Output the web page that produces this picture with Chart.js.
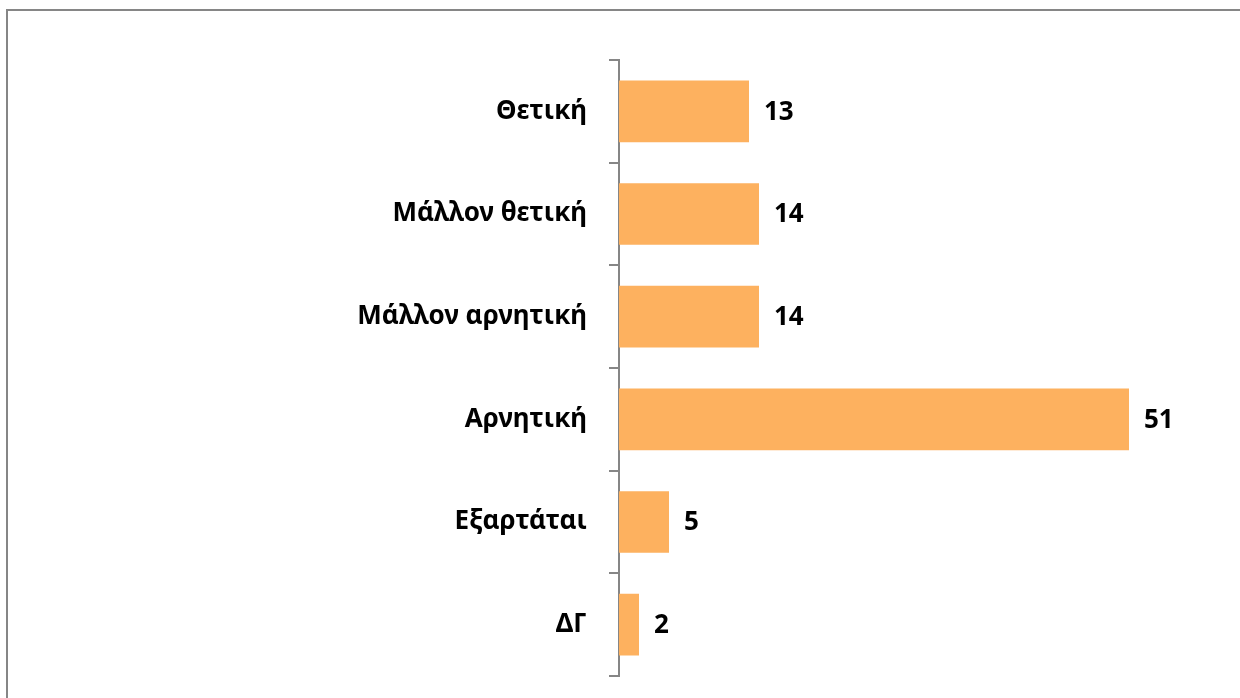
<!DOCTYPE html>
<html>
<head>
<meta charset="utf-8">
<script src="https://cdn.jsdelivr.net/npm/chart.js@4/dist/chart.umd.min.js"></script>
<style>
  html, body { margin: 0; padding: 0; background: #fff; }
  #wrap { position: relative; width: 1240px; height: 698px; overflow: hidden; }
  #frame { position: absolute; left: 6px; top: 9px; width: 1300px; height: 800px;
           border-left: 2px solid #868686; border-top: 2px solid #868686; }
  canvas { position: absolute; left: 0; top: 0; }
</style>
</head>
<body>
<div id="wrap">
  <div id="frame"></div>
  <canvas id="chart" width="1240" height="698"></canvas>
</div>
<script>
// categories and values
const categories = ['Θετική', 'Μάλλον θετική', 'Μάλλον αρνητική', 'Αρνητική', 'Εξαρτάται', 'ΔΓ'];
const values = [13, 14, 14, 51, 5, 2];

const fontFamily = '"Noto Sans", "Open Sans", sans-serif';

// draws the value next to each bar end
const valueLabels = {
  id: 'valueLabels',
  afterDatasetsDraw(chart) {
    const ctx = chart.ctx;
    const meta = chart.getDatasetMeta(0);
    ctx.save();
    ctx.font = 'bold 26px ' + fontFamily;
    ctx.fillStyle = '#000';
    ctx.textAlign = 'left';
    ctx.textBaseline = 'middle';
    meta.data.forEach(function (bar, i) {
      ctx.fillText(String(values[i]), bar.x + 15, bar.y + 1);
    });
    ctx.restore();
  }
};

const ctx = document.getElementById('chart').getContext('2d');
new Chart(ctx, {
  type: 'bar',
  data: {
    labels: categories,
    datasets: [{
      data: values,
      backgroundColor: '#FDB15F',
      borderWidth: 0,
      barPercentage: 0.6,
      categoryPercentage: 1.0
    }]
  },
  options: {
    indexAxis: 'y',
    responsive: false,
    animation: false,
    layout: { padding: { left: 0, right: 21, top: 60, bottom: 22 } },
    scales: {
      x: {
        display: false,
        min: 0,
        max: 60
      },
      y: {
        afterFit: function (scale) {
          scale.width = 619;
          scale.paddingTop = 0;
          scale.paddingBottom = 0;
        },
        grid: {
          drawOnChartArea: false,
          drawTicks: true,
          tickLength: 10,
          color: '#868686',
          lineWidth: 2
        },
        border: { color: '#868686', width: 2 },
        ticks: {
          color: '#000',
          padding: 22,
          font: { family: fontFamily, size: 26, weight: 'bold' }
        }
      }
    },
    plugins: {
      legend: { display: false },
      tooltip: { enabled: false }
    }
  },
  plugins: [valueLabels]
});
</script>
</body>
</html>
